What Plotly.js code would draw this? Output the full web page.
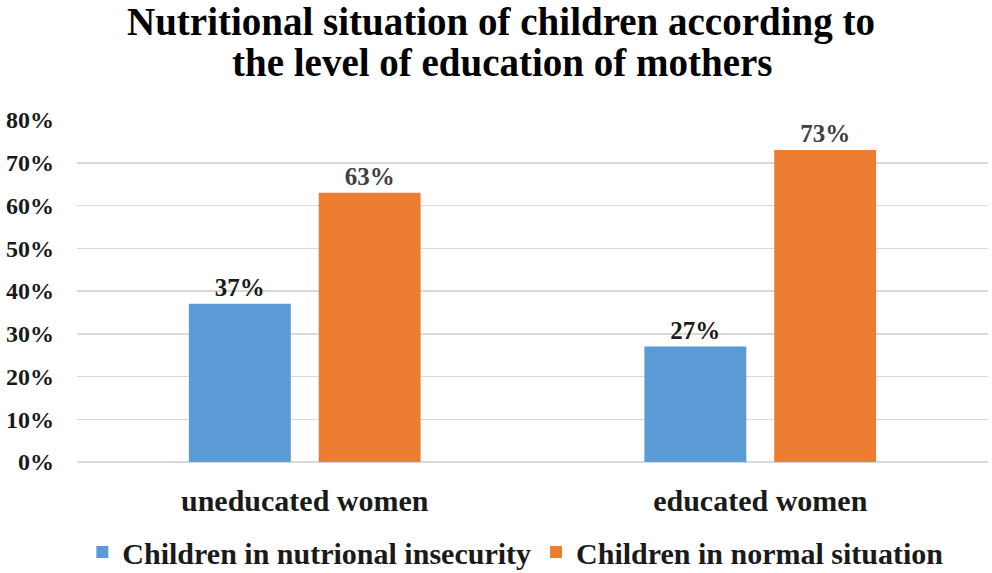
<!DOCTYPE html>
<html>
<head>
<meta charset="utf-8">
<script src="https://cdn.plot.ly/plotly-3.0.1.min.js"></script>
<style>html,body{margin:0;padding:0;background:#fff;}#chart{width:992px;height:573px;}</style>
</head>
<body>
<div id="chart"></div>
<script>
const categories = ["uneducated women", "educated women"];
const seriesNames = ["Children in nutrional insecurity", "Children in normal situation"];
const insecurity = [0.37, 0.27];
const normal = [0.63, 0.73];
const yTicks = [0, 0.1, 0.2, 0.3, 0.4, 0.5, 0.6, 0.7, 0.8];
const titleLines = ["Nutritional situation of children according to", "the level of education of mothers"];

const serif = "Liberation Serif";
const traces = [
  {type: "bar", name: seriesNames[0], x: categories, y: insecurity,
   marker: {color: "#5B9BD5"}, texttemplate: "<b>%{y:.0%}</b>", textposition: "outside",
   textfont: {family: serif, size: 25, color: "#1a1a1a"}, cliponaxis: false},
  {type: "bar", name: seriesNames[1], x: categories, y: normal,
   marker: {color: "#ED7D31"}, texttemplate: "<b>%{y:.0%}</b>", textposition: "outside",
   textfont: {family: serif, size: 25, color: "#404040"}, cliponaxis: false}
];
const layout = {
  width: 992, height: 573,
  margin: {l: 77, r: 4, t: 120, b: 111},
  paper_bgcolor: "#fff", plot_bgcolor: "#fff",
  font: {family: serif, color: "#1a1a1a"},
  title: {text: "<b>" + titleLines[0] + "</b>",
          font: {family: serif, size: 39, color: "#000"},
          x: 0.505, xanchor: "center", xref: "container", y: 1 - 21 / 573, yanchor: "middle", yref: "container"},
  annotations: [{text: "<b>" + titleLines[1] + "</b>", xref: "paper", yref: "paper",
                 x: 0.466, y: 1 + 58 / 342, xanchor: "center", yanchor: "middle", showarrow: false,
                 font: {family: serif, size: 39, color: "#000"}}],
  barmode: "group", bargap: 0.43, bargroupgap: 0.215,
  xaxis: {tickfont: {family: serif, size: 30, color: "#1a1a1a", weight: "bold"}, showline: false, ticks: "",
          ticklabelstandoff: 18, automargin: false},
  yaxis: {range: [0, 0.8], tickvals: yTicks, tickformat: ".0%", automargin: false,
          tickfont: {family: serif, size: 24, color: "#1a1a1a", weight: "bold"},
          gridcolor: "#d9d9d9", gridwidth: 1.5, zeroline: true, zerolinecolor: "#d9d9d9", zerolinewidth: 1.5,
          showline: false, ticks: "", ticklabelstandoff: 22},
  showlegend: true,
  legend: {orientation: "h", x: 0.52, xanchor: "center", xref: "container",
           y: 1 - 552 / 573, yanchor: "middle", yref: "container",
           font: {family: serif, size: 30, color: "#1a1a1a", weight: "bold"}, itemwidth: 30,
           traceorder: "normal"}
};
Plotly.newPlot("chart", traces, layout, {displayModeBar: false, staticPlot: true});
</script>
</body>
</html>
